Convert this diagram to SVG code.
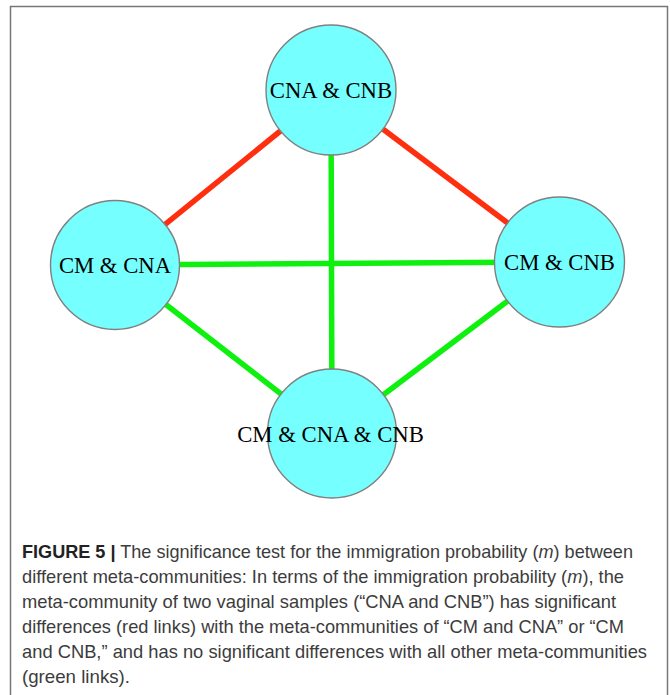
<svg xmlns="http://www.w3.org/2000/svg" width="670" height="695" viewBox="0 0 670 695">
<style>
.node circle{fill:#76FFFF;stroke:#808080;stroke-width:1.4}
.node text{font-family:"Liberation Serif","Times New Roman",serif;font-size:22.7px;fill:#000;text-anchor:middle}
.red{stroke:#FF2E0E;stroke-width:5.5;fill:none}
.green{stroke:#0EF00E;stroke-width:5.5;fill:none}
.cap{font-family:"Liberation Sans",Arial,sans-serif;font-size:18.5px;fill:#3c3c3c}
</style>
<rect width="670" height="695" fill="#ffffff"/>
<path d="M10.5 695 V6.5 H667.5 V695" fill="none" stroke="#777777" stroke-width="1.5"/>
<g id="connectors">
<line class="red" x1="331" y1="90" x2="115" y2="265"/>
<line class="red" x1="331" y1="90" x2="559.5" y2="262"/>
<line class="green" x1="115" y1="265" x2="559.5" y2="262"/>
<line class="green" x1="331" y1="90" x2="332" y2="433.5"/>
<line class="green" x1="115" y1="265" x2="332" y2="433.5"/>
<line class="green" x1="559.5" y1="262" x2="332" y2="433.5"/>
</g>
<g id="node-cna-cnb" class="node">
<circle cx="331" cy="90" r="65"/>
<text x="331" y="98">CNA &amp; CNB</text>
</g>
<g id="node-cm-cna" class="node">
<circle cx="115" cy="265" r="64.5"/>
<text x="115" y="273">CM &amp; CNA</text>
</g>
<g id="node-cm-cnb" class="node">
<circle cx="559.5" cy="262" r="65"/>
<text x="559.5" y="270">CM &amp; CNB</text>
</g>
<g id="node-cm-cna-cnb" class="node">
<circle cx="332" cy="433.5" r="64.5"/>
<text x="330.5" y="441.5">CM &amp; CNA &amp; CNB</text>
</g>
<g id="caption">
<text class="cap" x="22" y="557.5" textLength="611" lengthAdjust="spacingAndGlyphs"><tspan font-weight="bold" fill="#222">FIGURE 5 |</tspan> The significance test for the immigration probability (<tspan font-style="italic">m</tspan>) between</text>
<text class="cap" x="22" y="582.5" textLength="602" lengthAdjust="spacingAndGlyphs">different meta-communities: In terms of the immigration probability (<tspan font-style="italic">m</tspan>), the</text>
<text class="cap" x="22" y="607.5" textLength="594" lengthAdjust="spacingAndGlyphs">meta-community of two vaginal samples (“CNA and CNB”) has significant</text>
<text class="cap" x="22" y="632.5" textLength="602" lengthAdjust="spacingAndGlyphs">differences (red links) with the meta-communities of “CM and CNA” or “CM</text>
<text class="cap" x="22" y="657.5" textLength="625" lengthAdjust="spacingAndGlyphs">and CNB,” and has no significant differences with all other meta-communities</text>
<text class="cap" x="22" y="682.5" textLength="108" lengthAdjust="spacingAndGlyphs">(green links).</text>
</g>
</svg>
